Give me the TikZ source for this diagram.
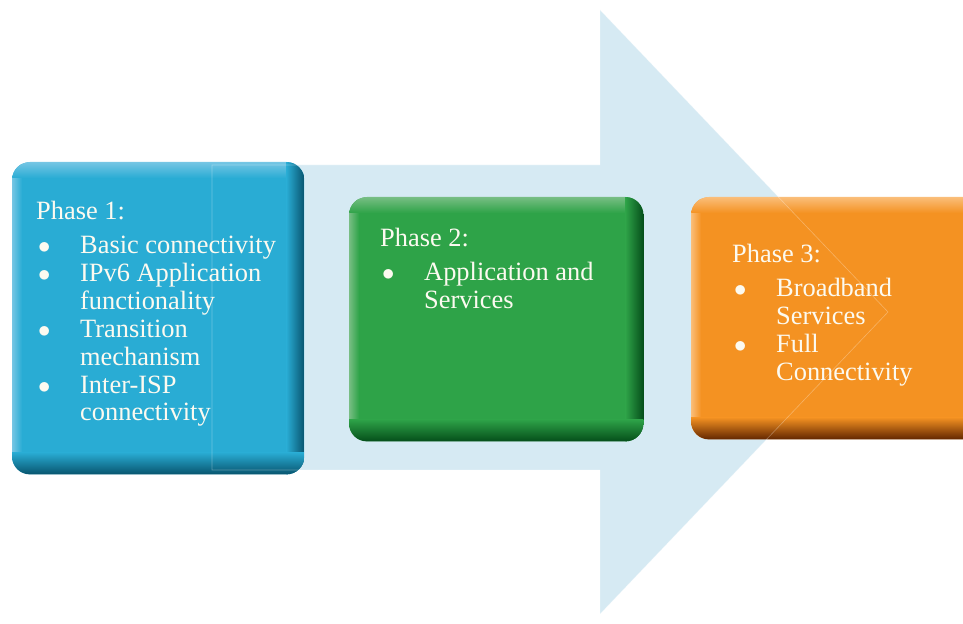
\documentclass[tikz,border=0pt]{standalone}
\usepackage{fontspec}
\setmainfont{Liberation Serif}
\usetikzlibrary{calc,positioning}
\definecolor{arrowbg}{RGB}{214,234,243}
\definecolor{ph1}{RGB}{41,172,212}
\definecolor{ph1dk}{RGB}{8,84,110}
\definecolor{ph1lt}{RGB}{118,198,228}
\definecolor{ph2}{RGB}{46,163,72}
\definecolor{ph2dk}{RGB}{5,78,26}
\definecolor{ph2lt}{RGB}{120,190,132}
\definecolor{ph3}{RGB}{244,146,34}
\definecolor{ph3dk}{RGB}{98,38,0}
\definecolor{ph3lt}{RGB}{250,190,122}
\definecolor{txt}{RGB}{252,250,240}
\tikzset{
    phasebox/.style={rectangle,rounded corners=18bp,inner sep=0pt,anchor=north west},
    phasetext/.style={text=txt,inner sep=0pt,anchor=north west,
        font=\fontsize{26.5}{28}\selectfont},
}
\newcommand{\bul}{\makebox[44bp][l]{\hspace{2bp}$\bullet$}}

\begin{document}
\begin{tikzpicture}[x=1bp,y=1bp]
\clip (0,0) rectangle (963,624);
\fill[white] (0,0) rectangle (963,624);

% big arrow behind the phases
\fill[arrowbg] (212,154) -- (600,154) -- (600,10) -- (888,312) -- (600,614) -- (600,459) -- (212,459) -- cycle;

\node[phasebox,fill=ph1,minimum width=292bp,minimum height=312bp] (p1) at (12,462) {};
\node[phasebox,fill=ph2,minimum width=294bp,minimum height=244bp] (p2) at (349,427) {};
\node[phasebox,fill=ph3,minimum width=300bp,minimum height=242bp] (p3) at (691,427) {};

% bevel: light top/left, dark bottom/right
\foreach \b/\base/\dk/\lt in {p1/ph1/ph1dk/ph1lt,p2/ph2/ph2dk/ph2lt,p3/ph3/ph3dk/ph3lt} {
    \begin{scope}
        \clip[rounded corners=18bp] (\b.south west) rectangle (\b.north east);
        \shade[left color=\lt,right color=\base] (\b.south west) rectangle ($(\b.north west)+(10,0)$);
        \shade[top color=\lt,bottom color=\base] ($(\b.north west)+(0,-16)$) rectangle (\b.north east);
        \shade[left color=\base,right color=\dk] ($(\b.north east)+(-18,0)$) rectangle (\b.south east);
        \shade[top color=\base,bottom color=\dk] (\b.south west) rectangle ($(\b.south east)+(0,22)$);
    \end{scope}
}

% faint arrow outline showing through
\draw[white,opacity=.3,line width=.6bp] (212,154) -- (600,154) -- (600,10) -- (888,312) -- (600,614) -- (600,459) -- (212,459) -- cycle;

\node[phasetext] (t1) at ([shift={(24,-38)}]p1.north west) {%
    \begin{tabular}{@{}l@{}l@{}}
    \multicolumn{2}{@{}l@{}}{Phase 1:}\\[6bp]
    \bul & Basic connectivity\\
    \bul & IPv6 Application\\
         & functionality\\
    \bul & Transition\\
         & mechanism\\
    \bul & Inter-ISP\\
         & connectivity
    \end{tabular}};

\node[phasetext] (t2) at ([shift={(31,-30)}]p2.north west) {%
    \begin{tabular}{@{}l@{}l@{}}
    \multicolumn{2}{@{}l@{}}{Phase 2:}\\[6bp]
    \bul & Application and\\
         & Services
    \end{tabular}};

\node[phasetext] (t3) at ([shift={(41,-46)}]p3.north west) {%
    \begin{tabular}{@{}l@{}l@{}}
    \multicolumn{2}{@{}l@{}}{Phase 3:}\\[6bp]
    \bul & Broadband\\
         & Services\\
    \bul & Full\\
         & Connectivity
    \end{tabular}};
\end{tikzpicture}
\end{document}
